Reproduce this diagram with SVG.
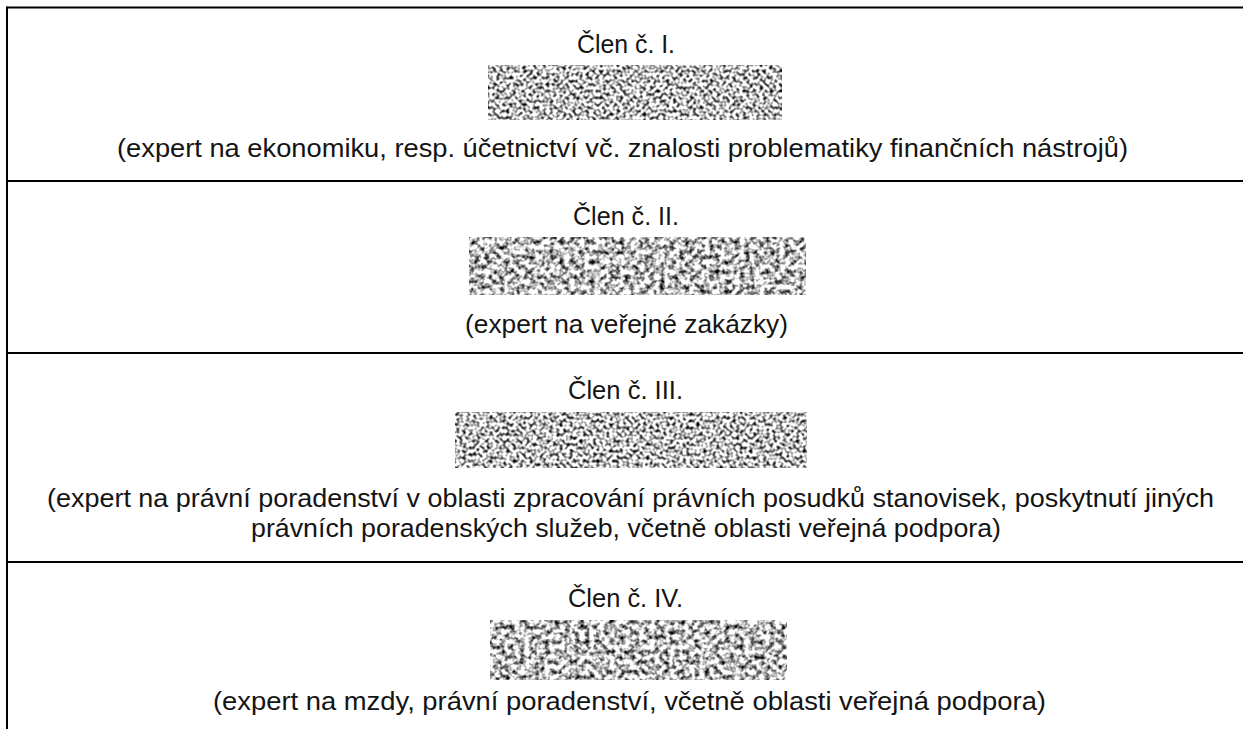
<svg xmlns="http://www.w3.org/2000/svg" width="1243" height="729" viewBox="0 0 1243 729">
  <style>
    .t { font-family: "Liberation Sans", Arial, sans-serif; font-size: 26px; fill: #141414; }
    .grid line { stroke: #000; stroke-width: 2; }
  </style>
  <defs>
    <filter id="noiseSharp" x="0" y="0" width="1" height="1" color-interpolation-filters="sRGB">
      <feTurbulence type="fractalNoise" baseFrequency="0.3" numOctaves="1" seed="7" result="t"/>
      <feColorMatrix in="t" type="matrix" values="2.7 0 0 0 -0.6  2.7 0 0 0 -0.6  2.7 0 0 0 -0.6  0 0 0 0 1"/>
    </filter>
    <filter id="noiseSoft" x="0" y="0" width="1" height="1" color-interpolation-filters="sRGB">
      <feTurbulence type="fractalNoise" baseFrequency="0.2" numOctaves="2" seed="11" result="t"/>
      <feColorMatrix in="t" type="matrix" values="2.3 0 0 0 -0.4  2.3 0 0 0 -0.4  2.3 0 0 0 -0.4  0 0 0 0 1"/>
    </filter>
  </defs>
  <rect width="1243" height="729" fill="#fff"/>

  <g id="grid" class="grid">
    <line x1="7" y1="7.5" x2="1243" y2="7.5"/>
    <line x1="7" y1="181" x2="1243" y2="181"/>
    <line x1="7" y1="353" x2="1243" y2="353"/>
    <line x1="7" y1="562" x2="1243" y2="562"/>
    <line x1="7" y1="6.5" x2="7" y2="729"/>
  </g>

  <g id="row1">
    <text class="t" x="626" y="53" text-anchor="middle" textLength="98" lengthAdjust="spacingAndGlyphs">Člen č. I.</text>
    <rect x="488" y="65" width="294" height="55" fill="#888" filter="url(#noiseSharp)"/>
    <text class="t" x="117" y="157" textLength="1011" lengthAdjust="spacingAndGlyphs">(expert na ekonomiku, resp. účetnictví vč. znalosti problematiky finančních nástrojů)</text>
  </g>

  <g id="row2">
    <text class="t" x="626" y="225" text-anchor="middle" textLength="106" lengthAdjust="spacingAndGlyphs">Člen č. II.</text>
    <rect x="469" y="237" width="337" height="58" fill="#888" filter="url(#noiseSoft)"/>
    <text class="t" x="465" y="333" textLength="323" lengthAdjust="spacingAndGlyphs">(expert na veřejné zakázky)</text>
  </g>

  <g id="row3">
    <text class="t" x="625.5" y="399" text-anchor="middle" textLength="115" lengthAdjust="spacingAndGlyphs">Člen č. III.</text>
    <rect x="455" y="412" width="352" height="56" fill="#888" filter="url(#noiseSharp)"/>
    <text class="t" x="47" y="507" textLength="1167" lengthAdjust="spacingAndGlyphs">(expert na právní poradenství v oblasti zpracování právních posudků stanovisek, poskytnutí jiných</text>
    <text class="t" x="251" y="537" textLength="750" lengthAdjust="spacingAndGlyphs">právních poradenských služeb, včetně oblasti veřejná podpora)</text>
  </g>

  <g id="row4">
    <text class="t" x="625.5" y="607" text-anchor="middle" textLength="115" lengthAdjust="spacingAndGlyphs">Člen č. IV.</text>
    <rect x="490" y="620" width="297" height="60" fill="#888" filter="url(#noiseSoft)"/>
    <text class="t" x="213" y="710" textLength="833" lengthAdjust="spacingAndGlyphs">(expert na mzdy, právní poradenství, včetně oblasti veřejná podpora)</text>
  </g>
</svg>
